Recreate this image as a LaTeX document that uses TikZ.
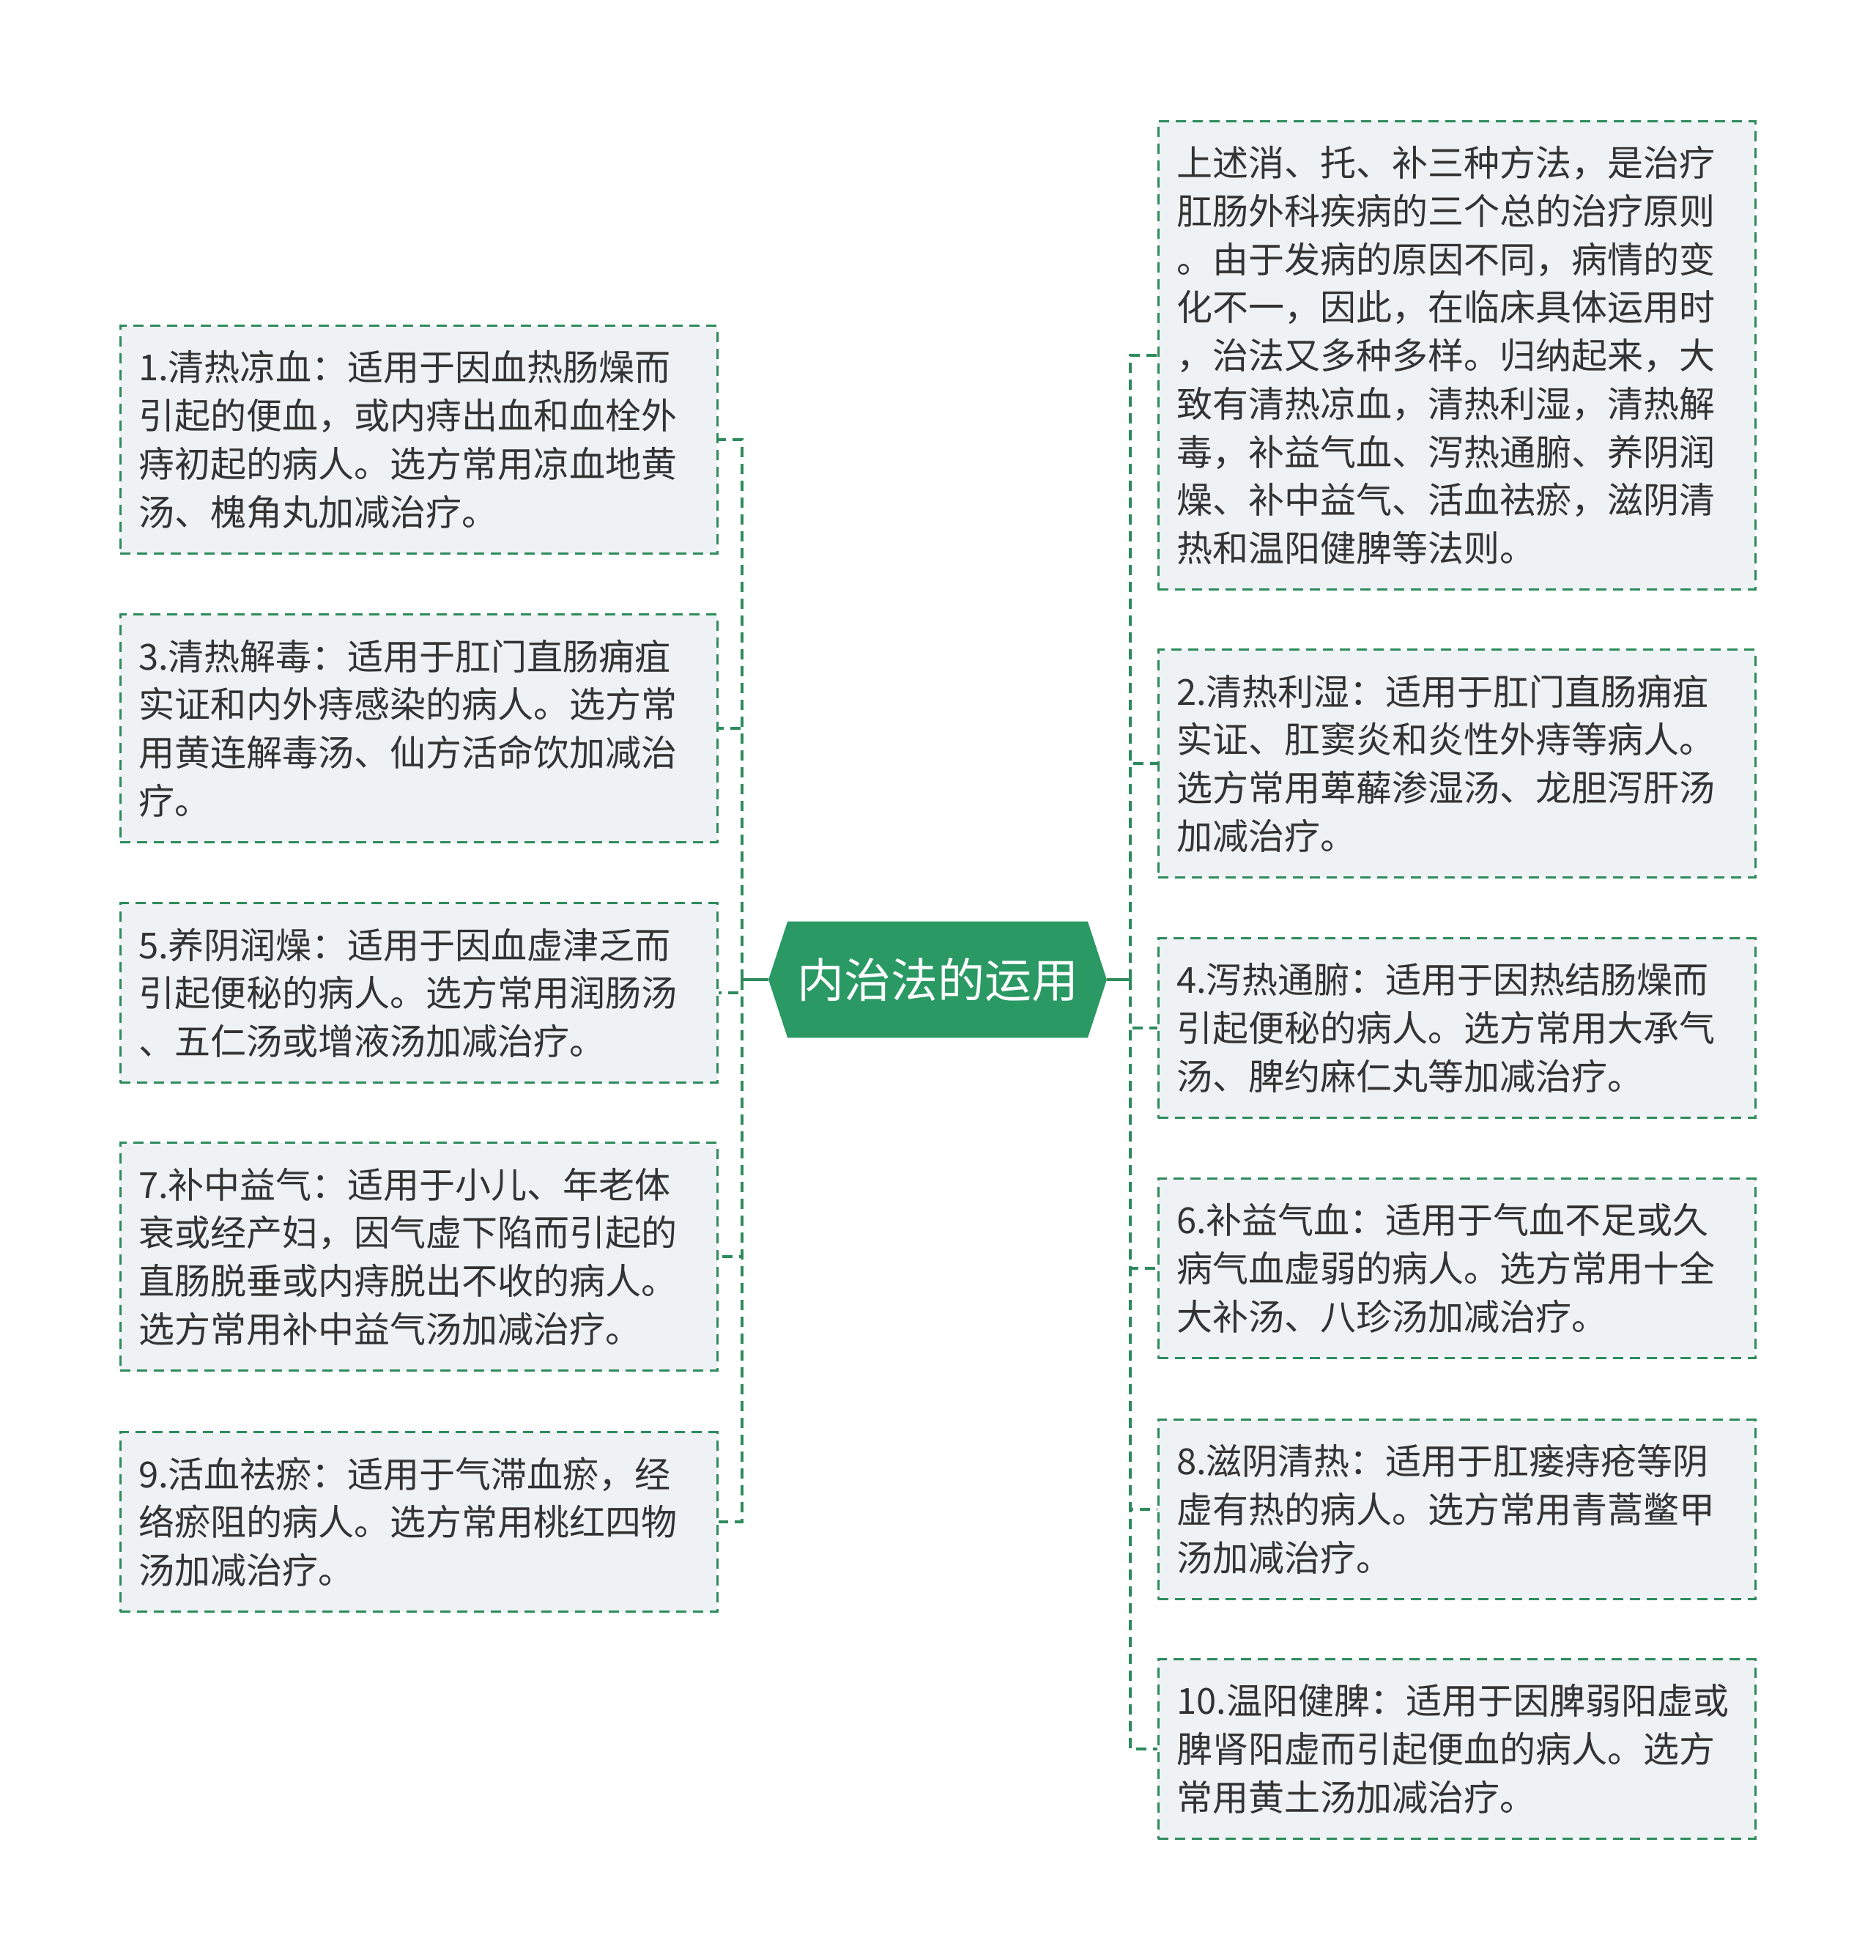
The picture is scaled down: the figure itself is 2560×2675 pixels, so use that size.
\documentclass[tikz,border=0pt]{standalone}
\usepackage{fontspec}
\setmainfont{Noto Sans CJK SC}
\usepackage{xcolor}
\usetikzlibrary{positioning, backgrounds}

\definecolor{rootgreen}{HTML}{2A9964}
\definecolor{linegreen}{HTML}{2E8B5C}
\definecolor{leaffill}{HTML}{EEF2F5}
\definecolor{leaftext}{HTML}{333333}

\begin{document}
\begin{tikzpicture}[
    x=0.5pt, y=-0.5pt,
    leaf/.style={
        draw=linegreen,
        line width=1.5pt,
        dash pattern=on 7pt off 4.5pt,
        fill=leaffill,
        text=leaftext,
        font=\fontsize{24.5pt}{32.85pt}\selectfont,
        text width=382.5pt,
        align=left,
        inner xsep=12.5pt,
        inner ysep=0pt,
        minimum height=155.5pt
    },
    short/.style={leaf, minimum height=122.5pt},
    tall/.style={leaf, minimum height=319.5pt},
    root/.style={
        text=white,
        font=\fontsize{32pt}{38pt}\selectfont,
        minimum width=204.5pt,
        minimum height=79pt,
        inner sep=0pt
    },
    link/.style={draw=linegreen, line width=2.2pt, dash pattern=on 7pt off 4.5pt},
    stem/.style={draw=linegreen, line width=2.2pt}
]
\useasboundingbox (0,0) rectangle (2560,2675);

% Root
\node[root] (root) at (1280,1337) {内治法的运用};
\begin{scope}[on background layer]
\fill[rootgreen] (root.north west) -- (root.north east) -- ([xshift=13pt]root.east)
    -- (root.south east) -- (root.south west) -- ([xshift=-13pt]root.west) -- cycle;
\end{scope}

% Left branches
\node[leaf, anchor=north] (liangxue) at (571.5,443) {1.清热凉血：适用于因血热肠燥而\\引起的便血，或内痔出血和血栓外\\痔初起的病人。选方常用凉血地黄\\汤、槐角丸加减治疗。};
\node[leaf, below=40pt of liangxue] (jiedu) {3.清热解毒：适用于肛门直肠痈疽\\实证和内外痔感染的病人。选方常\\用黄连解毒汤、仙方活命饮加减治\\疗。};
\node[short, below=40pt of jiedu] (runzao) {5.养阴润燥：适用于因血虚津乏而\\引起便秘的病人。选方常用润肠汤\\、五仁汤或增液汤加减治疗。};
\node[leaf, below=39.5pt of runzao] (zhongqi) {7.补中益气：适用于小儿、年老体\\衰或经产妇，因气虚下陷而引起的\\直肠脱垂或内痔脱出不收的病人。\\选方常用补中益气汤加减治疗。};
\node[short, below=40.5pt of zhongqi] (quyu) {9.活血祛瘀：适用于气滞血瘀，经\\络瘀阻的病人。选方常用桃红四物\\汤加减治疗。};

% Right branches
\node[tall, anchor=north] (summary) at (1988.5,164) {上述消、托、补三种方法，是治疗\\肛肠外科疾病的三个总的治疗原则\\。由于发病的原因不同，病情的变\\化不一，因此，在临床具体运用时\\，治法又多种多样。归纳起来，大\\致有清热凉血，清热利湿，清热解\\毒，补益气血、泻热通腑、养阴润\\燥、补中益气、活血祛瘀，滋阴清\\热和温阳健脾等法则。};
\node[leaf, below=39.5pt of summary] (lishi) {2.清热利湿：适用于肛门直肠痈疽\\实证、肛窦炎和炎性外痔等病人。\\选方常用萆薢渗湿汤、龙胆泻肝汤\\加减治疗。};
\node[short, below=40pt of lishi] (tongfu) {4.泻热通腑：适用于因热结肠燥而\\引起便秘的病人。选方常用大承气\\汤、脾约麻仁丸等加减治疗。};
\node[short, below=40pt of tongfu] (qixue) {6.补益气血：适用于气血不足或久\\病气血虚弱的病人。选方常用十全\\大补汤、八珍汤加减治疗。};
\node[short, below=40.5pt of qixue] (qingre) {8.滋阴清热：适用于肛瘘痔疮等阴\\虚有热的病人。选方常用青蒿鳖甲\\汤加减治疗。};
\node[short, below=39.5pt of qingre] (jianpi) {10.温阳健脾：适用于因脾弱阳虚或\\脾肾阳虚而引起便血的病人。选方\\常用黄土汤加减治疗。};

% Connections
\coordinate (lhub) at (1013,1337);
\coordinate (rhub) at (1543,1337);
\draw[stem] ([xshift=-13pt]root.west) -- (lhub);
\draw[stem] ([xshift=13pt]root.east) -- (rhub);
\foreach \n in {liangxue, jiedu, runzao, zhongqi, quyu}
    \draw[link] (lhub) |- (\n.east);
\foreach \n in {summary, lishi, tongfu, qixue, qingre, jianpi}
    \draw[link] (rhub) |- (\n.west);

\end{tikzpicture}
\end{document}
